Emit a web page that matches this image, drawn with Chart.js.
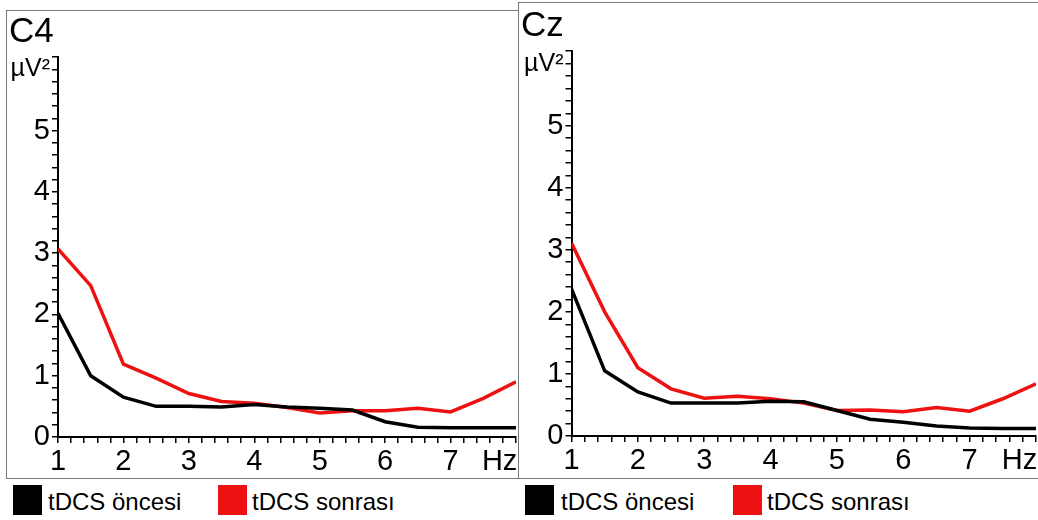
<!DOCTYPE html>
<html><head><meta charset="utf-8">
<script src="https://cdn.jsdelivr.net/npm/chart.js@4/dist/chart.umd.min.js"></script>
<style>
html,body{margin:0;padding:0;width:1038px;height:520px;overflow:hidden;background:#fff;font-family:'Liberation Sans',Arial,sans-serif}
.wrap{position:absolute}
.frame{position:absolute;border:1px solid #7a7a7a;pointer-events:none;box-sizing:border-box}
.lg-box{position:absolute;width:29px;height:30px}
.lg-txt{position:absolute;font-size:24px;line-height:30px;color:#000;white-space:nowrap}
</style></head><body>
<div class="wrap" style="left:0;top:0;width:518px;height:480px"><canvas id="c1"></canvas></div>
<div class="wrap" style="left:518px;top:0;width:520px;height:480px"><canvas id="c2"></canvas></div>
<div class="frame" style="left:6px;top:10px;width:513px;height:469px"></div>
<div class="frame" style="left:518px;top:2px;width:530px;height:477px"></div>

<div class="lg-box" style="left:13px;top:485px;background:#000"></div>
<div class="lg-txt" id="l1a" style="left:48px;top:487px"></div>
<div class="lg-box" style="left:218px;top:485px;background:#ee1111"></div>
<div class="lg-txt" id="l1b" style="left:252px;top:487px"></div>
<div class="lg-box" style="left:525px;top:485px;background:#000"></div>
<div class="lg-txt" id="l2a" style="left:561px;top:487px"></div>
<div class="lg-box" style="left:733px;top:485px;background:#ee1111"></div>
<div class="lg-txt" id="l2b" style="left:767px;top:487px"></div>

<script>
// ---- data ----
const freqHz = [1, 1.5, 2, 2.5, 3, 3.5, 4, 4.5, 5, 5.5, 6, 6.5, 7, 7.5, 8];
const seriesNames = ['tDCS öncesi', 'tDCS sonrası'];
const panelTitles = ['C4', 'Cz'];
const c4Before = [2.02, 1.0, 0.65, 0.5, 0.5, 0.49, 0.53, 0.49, 0.47, 0.44, 0.25, 0.16, 0.15, 0.15, 0.15];
const c4After  = [3.07, 2.47, 1.19, 0.96, 0.71, 0.58, 0.55, 0.48, 0.39, 0.43, 0.43, 0.47, 0.41, 0.63, 0.9];
const czBefore = [2.37, 1.05, 0.71, 0.53, 0.53, 0.53, 0.56, 0.55, 0.41, 0.27, 0.22, 0.16, 0.13, 0.12, 0.12];
const czAfter  = [3.11, 2.0, 1.1, 0.76, 0.61, 0.64, 0.6, 0.53, 0.41, 0.42, 0.39, 0.46, 0.4, 0.6, 0.84];
const xTickValues = [1, 2, 3, 4, 5, 6, 7, 7.75];
const xTickLabels = ['1', '2', '3', '4', '5', '6', '7', 'Hz'];
const yTickValues = [0, 1, 2, 3, 4, 5, 6];
const yTickLabels = ['0', '1', '2', '3', '4', '5', 'µV²'];
const seriesColors = ['#000000', '#ee1111'];

document.getElementById('l1a').textContent = seriesNames[0];
document.getElementById('l1b').textContent = seriesNames[1];
document.getElementById('l2a').textContent = seriesNames[0];
document.getElementById('l2b').textContent = seriesNames[1];

const FAM = "'Liberation Sans', Arial, sans-serif";
const near = (a, b) => Math.abs(a - b) < 1e-6;
function labelFor(vals, labs, v) {
  for (let i = 0; i < vals.length; i++) if (near(vals[i], v)) return labs[i];
  return '';
}

function makeChart(id, title, before, after, L) {
  const toPts = arr => freqHz.map((f, i) => ({x: f, y: arr[i]}));
  return new Chart(document.getElementById(id), {
    type: 'line',
    data: {
      datasets: [
        {label: seriesNames[0], data: toPts(before), borderColor: seriesColors[0], backgroundColor: seriesColors[0], borderWidth: 3.5, pointRadius: 0, tension: 0},
        {label: seriesNames[1], data: toPts(after), borderColor: seriesColors[1], backgroundColor: seriesColors[1], borderWidth: 3.5, pointRadius: 0, tension: 0}
      ]
    },
    options: {
      responsive: true, maintainAspectRatio: false, animation: false,
      layout: {padding: {left: L.padLeft, right: 1, top: 0, bottom: 0}},
      plugins: {
        legend: {display: false},
        tooltip: {enabled: false},
        title: {display: true, text: title, align: 'start', color: '#000',
                font: {family: FAM, size: 35, weight: 'normal'},
                padding: {top: L.titleTop, bottom: L.titleBottom}}
      },
      scales: {
        x: {
          type: 'linear', min: 1, max: 8,
          afterBuildTicks: s => {
            const t = [];
            for (let i = 5; i <= 40; i++) t.push({value: i / 5});
            t.push({value: xTickValues[xTickValues.length - 1]});
            t.sort((a, b) => a.value - b.value);
            s.ticks = t;
          },
          afterFit: s => { s.height = L.xHeight; },
          ticks: {autoSkip: false, maxRotation: 0, color: '#000', padding: L.xPad,
                  font: {family: FAM, size: 29},
                  callback: v => labelFor(xTickValues, xTickLabels, v)},
          grid: {drawOnChartArea: false, tickLength: 6, lineWidth: 1.5, tickWidth: 1.5,
                 tickColor: c => (c.tick && near(c.tick.value, 7.75)) ? 'rgba(0,0,0,0)' : '#000'},
          border: {color: '#000', width: 2}
        },
        y: {
          type: 'linear', min: 0, max: 6.2,
          afterBuildTicks: s => {
            const t = [];
            for (let i = 0; i <= 31; i++) t.push({value: i / 5});
            s.ticks = t;
          },
          afterFit: s => { s.width = L.yWidth; },
          ticks: {autoSkip: false, color: '#000', padding: 2,
                  font: c => ({family: FAM, size: (c.tick && near(c.tick.value, 6)) ? 25 : 29}),
                  callback: v => labelFor(yTickValues, yTickLabels, v)},
          grid: {drawOnChartArea: false, tickLength: 6, lineWidth: 1.5, tickWidth: 1.5, color: '#000', tickColor: '#000'},
          border: {color: '#000', width: 2}
        }
      }
    }
  });
}

makeChart('c1', panelTitles[0], c4Before, c4After, {padLeft: 9, yWidth: 49, xHeight: 43, xPad: 2, titleTop: 11, titleBottom: 4});
makeChart('c2', panelTitles[1], czBefore, czAfter, {padLeft: 3, yWidth: 50.5, xHeight: 44, xPad: 2, titleTop: 5, titleBottom: 4.2});
</script>
</body></html>
